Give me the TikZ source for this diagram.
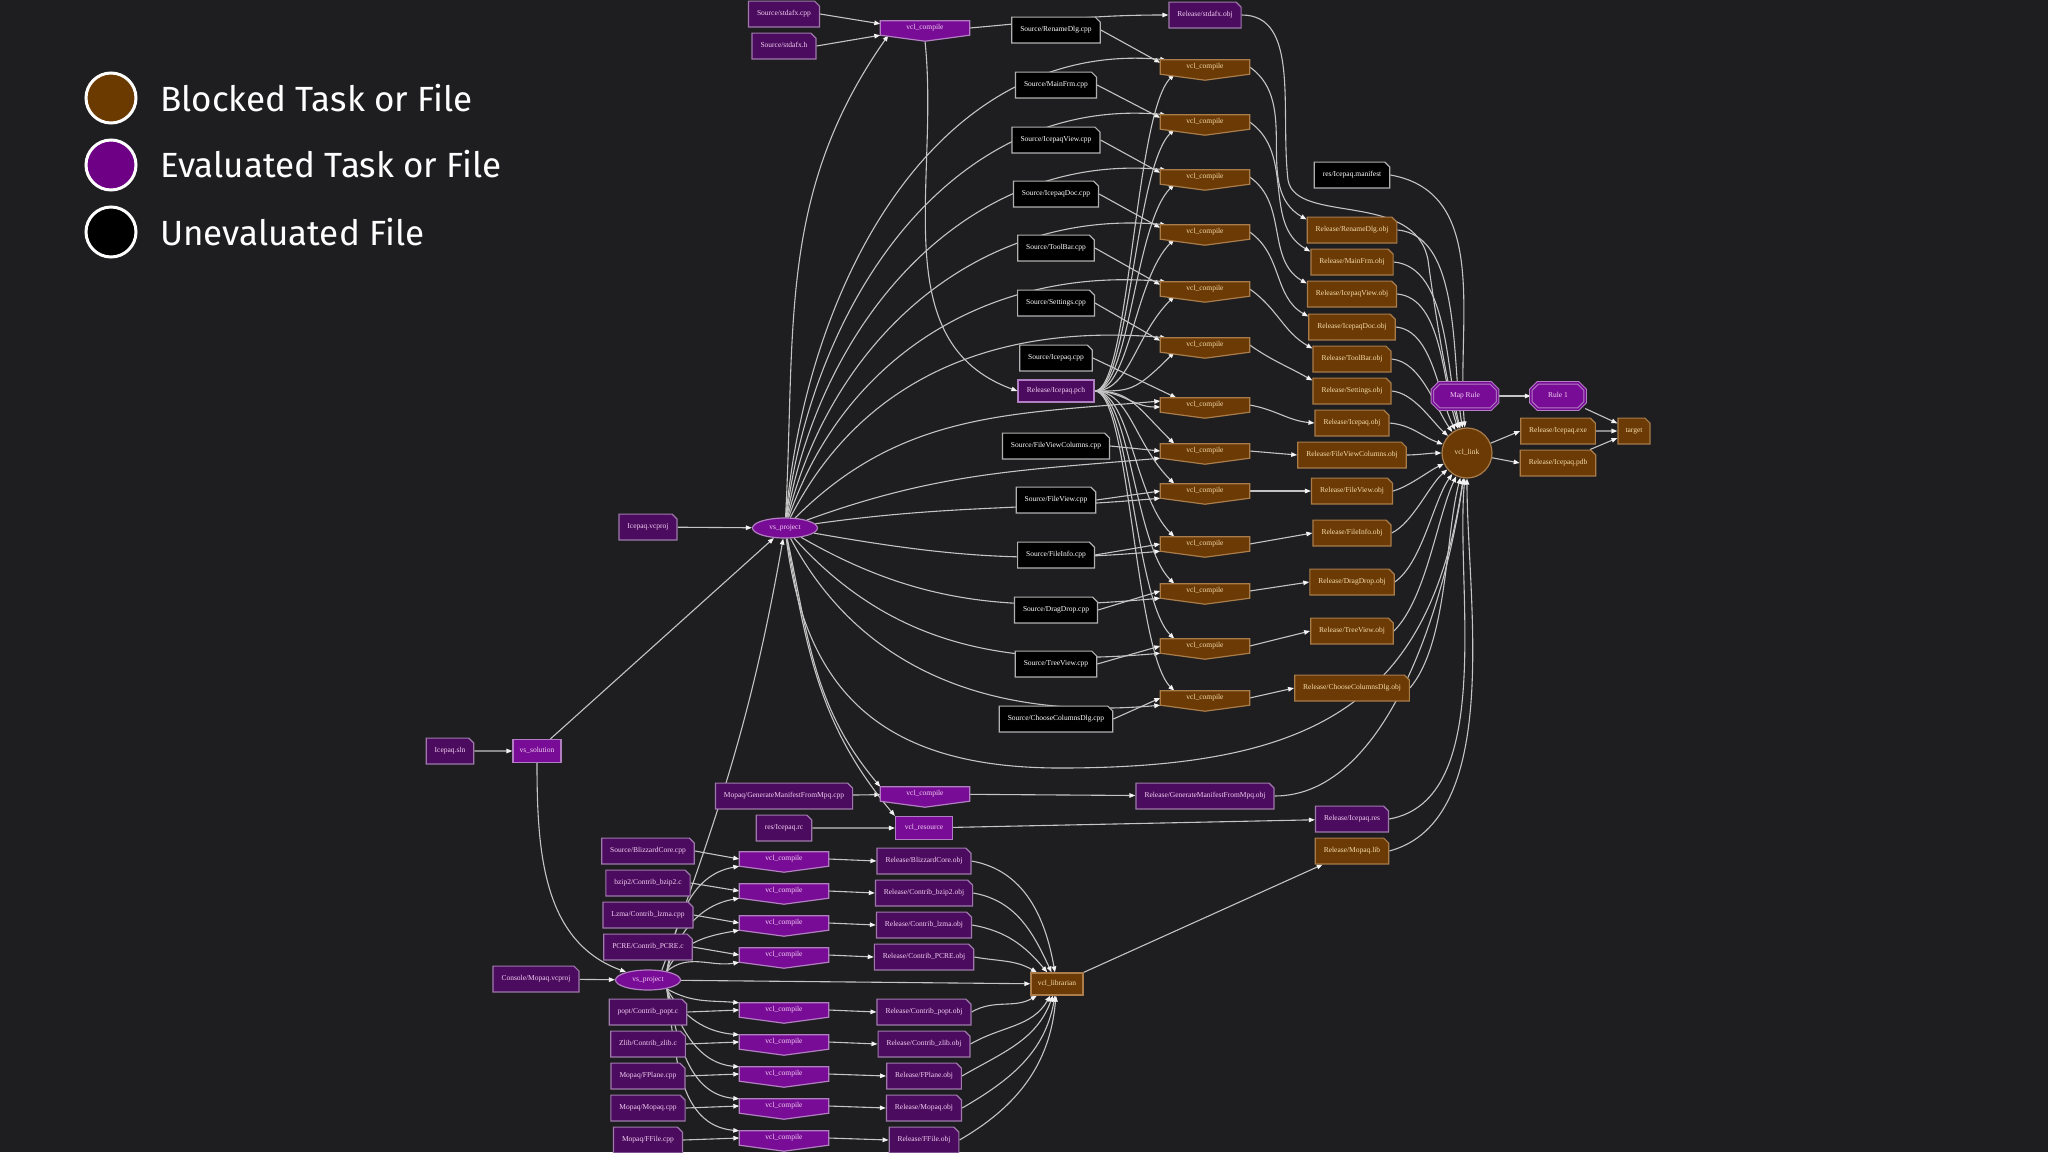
\documentclass[tikz,border=0pt]{standalone}
\usepackage{fontspec}
\setmainfont{Liberation Serif}
\newfontfamily\legendfont{Fira Sans}
\usetikzlibrary{shapes.geometric,shapes.misc,arrows.meta}
\definecolor{bgc}{HTML}{1E1E20}
\definecolor{edgec}{HTML}{C4C4C4}
\definecolor{arrc}{HTML}{F2F2F2}
\definecolor{brF}{HTML}{6B3A05}
\definecolor{brB}{HTML}{A97C4A}
\definecolor{brT}{HTML}{F7DDAA}
\definecolor{pnF}{HTML}{4B0B5E}
\definecolor{pnB}{HTML}{9F79AC}
\definecolor{pT}{HTML}{F3CFF3}
\definecolor{pvF}{HTML}{780C96}
\definecolor{pvB}{HTML}{B17EC2}
\definecolor{bkB}{HTML}{B0B0B0}
\definecolor{lgBr}{HTML}{6B3A00}
\definecolor{lgPu}{HTML}{6E0085}
\pgfdeclarelayer{back}
\pgfdeclarelayer{edges}
\pgfdeclarelayer{bg}
\pgfsetlayers{back,edges,bg,main}
\newcommand{\vclpoly}[3]{%
  \draw[line width=1.2pt, draw=#3, fill=#2, line join=miter]
    (#1.north west) -- (#1.north east) -- (#1.south east) --
    ([yshift=-6pt]#1.south) -- (#1.south west) -- cycle;}
\newcommand{\octpoly}[1]{%
  \draw[line width=1pt, draw=pvB, double=pvF, double distance=1.5pt, fill=pvF]
    ([xshift=7pt]#1.north west) -- ([xshift=-7pt]#1.north east) --
    ([yshift=-7pt]#1.north east) -- ([yshift=7pt]#1.south east) --
    ([xshift=-7pt]#1.south east) -- ([xshift=7pt]#1.south west) --
    ([yshift=7pt]#1.south west) -- ([yshift=-7pt]#1.north west) -- cycle;}
\tikzset{
  txt/.style={font=\fontsize{7.5}{8}\selectfont, text height=5.2pt, text depth=1.6pt},
  notebase/.style={txt, chamfered rectangle, chamfered rectangle corners=north east,
    chamfered rectangle xsep=2.5pt, chamfered rectangle ysep=2.5pt, inner xsep=6pt, inner ysep=7pt,
    minimum height=22pt, line width=1.2pt},
  noteb/.style={notebase, draw=bkB, fill=black, text=white},
  notep/.style={notebase, draw=pnB, fill=pnF, text=pT},
  noteo/.style={notebase, draw=brB, fill=brF, text=brT},
  vclbox/.style={txt, rectangle, minimum width=89pt, minimum height=14pt, inner sep=0pt},
  vclo/.style={vclbox, text=brT},
  vclp/.style={vclbox, text=pT},
  ellp/.style={txt, ellipse, minimum width=65pt, minimum height=20pt, inner sep=0pt,
    draw=pvB, fill=pvF, text=pT, line width=1.2pt},
  rectp/.style={txt, rectangle, minimum height=23pt, inner sep=0pt,
    draw=pvB, fill=pvF, text=pT, line width=1.2pt},
  recto/.style={txt, rectangle, minimum height=22pt, inner sep=0pt,
    draw=brB, fill=brF, text=brT, line width=1.2pt},
  octa/.style={txt, rectangle, minimum width=65pt, minimum height=26pt, inner sep=0pt, text=pT},
  edg/.style={draw=edgec, line width=1.1pt, -{Triangle[length=6pt,width=4.5pt,color=arrc]}},
  lgc/.style={circle, minimum size=50pt, draw=white, line width=3pt},
  lgt/.style={anchor=base west, inner sep=0pt, text=white, font=\legendfont\fontsize{35}{38}\selectfont}
}
\begin{document}
\begin{tikzpicture}[x=1pt,y=-1pt]
\useasboundingbox (0,0) rectangle (2048,1152);
\begin{pgfonlayer}{back}
\fill[bgc] (0,0) rectangle (2048,1152);
\end{pgfonlayer}

% legend
\node[lgc, fill=lgBr] (lg1) at (111,98) {};
\node[lgc, fill=lgPu] (lg2) at (111,165) {};
\node[lgc, fill=black] (lg3) at (111,232) {};
\node[lgt] (lt1) at (160,111) {Blocked Task or File};
\node[lgt] (lt2) at (160,177) {Evaluated Task or File};
\node[lgt] (lt3) at (160,245) {Unevaluated File};

% top cluster
\node[notep] (sstdc) at (784,14) {Source/stdafx.cpp};
\node[notep] (sstdh) at (784,46) {Source/stdafx.h};
\node[vclp] (v0) at (925,28) {vcl\_compile};
\node[notep] (ostd) at (1205,15) {Release/stdafx.obj};
\node[noteb] (man) at (1352,175) {res/Icepaq.manifest};
\node[rectp, minimum width=76pt, minimum height=22pt, fill=pnF] (pch) at (1056,391) {Release/Icepaq.pch};

\foreach \i/\nm/\sy/\vy/\oy in {1/RenameDlg/30/67/230, 2/MainFrm/85/122/262,
  3/IcepaqView/140/177/294, 4/IcepaqDoc/194/232/327, 5/ToolBar/248/289/359,
  6/Settings/303/345/391, 7/Icepaq/358/405/423, 8/FileViewColumns/446/451/455,
  9/FileView/500/491/491, 10/FileInfo/555/544/533, 11/DragDrop/610/591/582,
  12/TreeView/664/646/631, 13/ChooseColumnsDlg/719/698/688} {
  \node[noteb] (s\i) at (1056,\sy) {Source/\nm.cpp};
  \node[vclo] (v\i) at (1205,\vy) {vcl\_compile};
  \node[noteo] (o\i) at (1352,\oy) {Release/\nm.obj};
}

\node[circle, minimum size=50pt, inner sep=0pt, draw=brB, fill=brF, text=brT, txt, line width=1.2pt] (link) at (1467,453) {vcl\_link};
\node[octa] (mrule) at (1465,396) {Map Rule};
\node[octa, minimum width=54pt] (rule1) at (1558,396) {Rule 1};
\node[noteo] (exe) at (1558,431) {Release/Icepaq.exe};
\node[noteo] (pdb) at (1558,463) {Release/Icepaq.pdb};
\node[noteo, inner xsep=5pt] (tgt) at (1634,431) {target};

% left
\node[notep] (vcproj) at (648,527) {Icepaq.vcproj};
\node[ellp] (vsp1) at (785,528) {vs\_project};
\node[notep] (sln) at (450,751) {Icepaq.sln};
\node[rectp, minimum width=48pt] (vssol) at (537,751) {vs\_solution};

% bottom
\node[notep] (sgen) at (784,796) {Mopaq/GenerateManifestFromMpq.cpp};
\node[vclp] (vgen) at (925,794) {vcl\_compile};
\node[notep] (ogen) at (1205,796) {Release/GenerateManifestFromMpq.obj};
\node[notep] (rc) at (784,828) {res/Icepaq.rc};
\node[rectp, minimum width=57pt] (vres) at (924,828) {vcl\_resource};
\node[notep] (res) at (1352,819) {Release/Icepaq.res};
\node[noteo] (lib) at (1352,851) {Release/Mopaq.lib};
\node[recto, minimum width=52pt] (libr) at (1057,984) {vcl\_librarian};
\node[notep] (cons) at (536,979) {Console/Mopaq.vcproj};
\node[ellp] (vsp2) at (648,980) {vs\_project};

\foreach \j/\dr/\fl/\sy/\vy/\oy/\on in {1/Source/BlizzardCore.cpp/851/859/861/BlizzardCore,
  2/bzip2/Contrib\_bzip2.c/883/891/893/Contrib\_bzip2,
  3/Lzma/Contrib\_lzma.cpp/915/923/925/Contrib\_lzma,
  4/PCRE/Contrib\_PCRE.c/947/955/957/Contrib\_PCRE,
  5/popt/Contrib\_popt.c/1012/1010/1012/Contrib\_popt,
  6/Zlib/Contrib\_zlib.c/1044/1042/1044/Contrib\_zlib,
  7/Mopaq/FPlane.cpp/1076/1074/1076/FPlane,
  8/Mopaq/Mopaq.cpp/1108/1106/1108/Mopaq,
  9/Mopaq/FFile.cpp/1140/1138/1140/FFile} {
  \node[notep] (bs\j) at (648,\sy) {\dr/\fl};
  \node[vclp] (bv\j) at (784,\vy) {vcl\_compile};
  \node[notep] (bo\j) at (924,\oy) {Release/\on.obj};
}

% vcl and octagon shapes
\begin{pgfonlayer}{bg}
\vclpoly{v0}{pvF}{pvB}
\vclpoly{vgen}{pvF}{pvB}
\foreach \i in {1,...,13} {\vclpoly{v\i}{brF}{brB}}
\foreach \j in {1,...,9} {\vclpoly{bv\j}{pvF}{pvB}}
\octpoly{mrule}
\octpoly{rule1}
\end{pgfonlayer}

% edges
\begin{pgfonlayer}{edges}
\draw[edg] (sstdc.east) -- ([yshift=-3pt]v0.north west);
\draw[edg] (sstdh.east) -- (v0.south west);
\draw[edg] (vsp1) to[out=87, in=235] ([xshift=8pt]v0.south west);
\draw[edg] (v0.east) to[out=5, in=180] (ostd.west);
\draw[edg] ([yshift=-6pt]v0.south) to[out=-84, in=160] (pch.west);
\draw[edg] (ostd.east) .. controls (1300,15) and (1280,110) .. (1288,180)
  .. controls (1296,225) and (1415,190) .. (1428,260)
  .. controls (1436,320) and (1448,390) .. (link);
\draw[edg] (man.east) to[out=-10, in=95] (link);

\foreach \i/\ao/\oo/\li in {1/85/-5/100, 2/83/-5/105, 3/80/-5/110, 4/76/-5/117, 5/71/-5/125, 6/63/-5/138} {
  \draw[edg] (s\i.east) -- ([yshift=-3pt]v\i.north west);
  \draw[edg] (pch.east) .. controls +(35,0) and +(-40,40) .. ([xshift=14pt]v\i.south west);
  \draw[edg] (vsp1) to[out=\ao, in=175] ([xshift=6pt]v\i.north west);
  \draw[edg] (v\i.east) to[out=-35, in=150] ([yshift=-3pt]o\i.north west);
  \draw[edg] (o\i.east) to[out=\oo, in=\li, looseness=0.8] (link);
}
\draw[edg] (s7.east) -- ([xshift=16pt]v7.north west);
\draw[edg] (pch.east) to[out=0, in=180] ([yshift=-2pt]v7.west);
\draw[edg] (vsp1) to[out=45, in=185] ([yshift=4pt]v7.west);
\draw[edg] (v7.east) to[out=-10, in=175] (o7.west);
\draw[edg] (o7.east) to[out=-5, in=160] (link);
\foreach \i/\ao/\oo/\li in {8/20/0/180, 9/8/15/205, 10/-10/25/220, 11/-30/35/235, 12/-48/45/245, 13/-62/50/255} {
  \draw[edg] (s\i.east) -- (v\i.west);
  \draw[edg] (pch.east) .. controls +(35,0) and +(-40,-40) .. ([xshift=14pt]v\i.north west);
  \draw[edg] (vsp1) to[out=\ao, in=185] (v\i.south west);
  \draw[edg] (v\i.east) -- (o\i.west);
  \draw[edg] (o\i.east) to[out=\oo, in=\li, looseness=0.7] (link);
}

\draw[edg] (link) -- (exe.west);
\draw[edg] (link) -- (pdb.west);
\draw[edg] (exe) -- (tgt);
\draw[edg] (pdb) -- (tgt);
\draw[edg] (rule1) -- (tgt);
\draw[edg] (mrule) -- (rule1);

\draw[edg] (vcproj) -- (vsp1);
\draw[edg] (sln) -- (vssol);
\draw[edg] (vssol) -- (vsp1);
\draw[edg] (vssol) to[out=-90, in=160] (vsp2);
\draw[edg] (cons) -- (vsp2);
\draw[edg] (vsp2.35) to[out=70, in=-100] (vsp1);

\draw[edg] (sgen) -- (vgen);
\draw[edg] (vgen) -- (ogen);
\draw[edg] (rc) -- (vres);
\draw[edg] (vres) -- (res);
\draw[edg] (vsp1) to[out=-78, in=130] (vgen.north west);
\draw[edg] (vsp1) to[out=-80, in=130] (vres.north west);
\draw[edg] (vsp1) .. controls (805,690) and (880,768) .. (1060,768)
  .. controls (1320,768) and (1430,700) .. (link);
\draw[edg] (ogen.east) to[out=0, in=-98, looseness=0.8] (link);
\draw[edg] (res.east) to[out=10, in=-95, looseness=0.8] (link);
\draw[edg] (lib.east) to[out=15, in=-90, looseness=0.8] (link);
\draw[edg] (libr.north east) -- ([xshift=8pt]lib.south west);
\draw[edg] (vsp2) -- (libr);

\foreach \j in {1,...,9} {
  \draw[edg] (bs\j.east) -- (bv\j.west);
  \draw[edg] (bv\j.east) -- (bo\j.west);
}
\foreach \j/\ao/\li in {1/80/100, 2/75/115, 3/65/130, 4/40/150} {
  \draw[edg] (vsp2.25) to[out=\ao, in=190] (bv\j.south west);
  \draw[edg] (bo\j.east) to[out=-10, in=\li] (libr);
}
\foreach \j/\ao/\li in {5/-30/210, 6/-60/240, 7/-72/250, 8/-78/260, 9/-82/265} {
  \draw[edg] (vsp2.-25) to[out=\ao, in=175] (bv\j.north west);
  \draw[edg] (bo\j.east) to[out=30, in=\li] (libr);
}
\end{pgfonlayer}
\end{tikzpicture}
\end{document}
